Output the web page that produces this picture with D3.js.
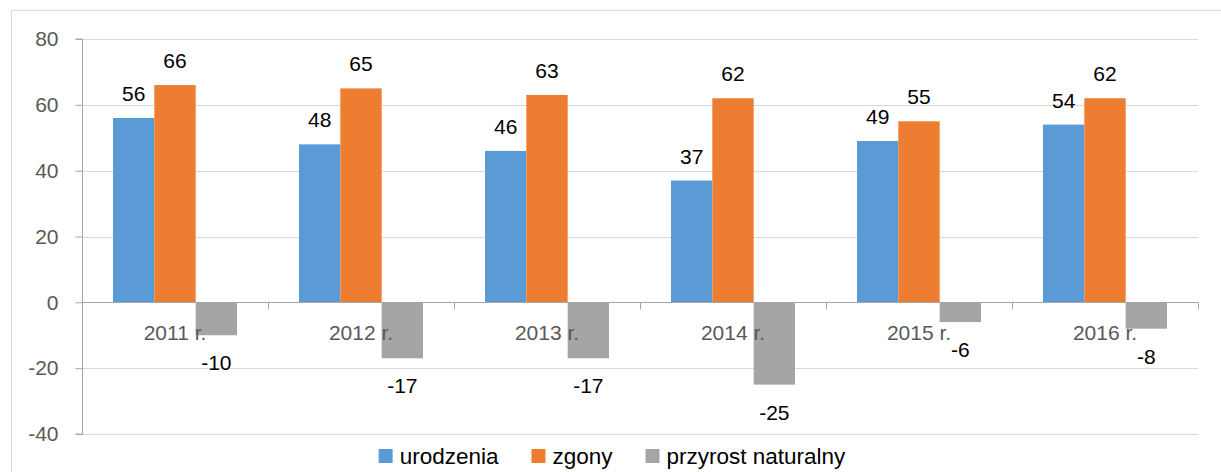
<!DOCTYPE html>
<meta charset="utf-8">
<style>
    body, html {
        margin: 0;
        padding: 0;
        height: 100%;
        overflow: hidden;
        background: #fff;
    }
    text { font-family: "Liberation Sans", Arial, sans-serif; }
</style>
<svg width="1221" height="472"></svg>
<script src="https://d3js.org/d3.v7.min.js"></script>
<script>
    var categories = ["2011 r.", "2012 r.", "2013 r.", "2014 r.", "2015 r.", "2016 r."];
    var urodzenia = [56, 48, 46, 37, 49, 54];
    var zgony = [66, 65, 63, 62, 55, 62];
    var przyrost = [-10, -17, -17, -25, -6, -8];
    var seriesNames = ["urodzenia", "zgony", "przyrost naturalny"];
    var yTicks = [-40, -20, 0, 20, 40, 60, 80];

    var colors = ["#5b9bd5", "#ed7d31", "#a5a5a5"];
    var seriesValues = [urodzenia, zgony, przyrost];

    var svg = d3.select("svg");

    // outer chart frame (right and bottom edges fall outside the picture)
    svg.append("rect")
        .attr("x", 11.5).attr("y", 10.5)
        .attr("width", 1230).attr("height", 480)
        .attr("fill", "none")
        .attr("stroke", "#d9d9d9");

    var left = 82, right = 1198;
    var y = d3.scaleLinear().domain([-40, 80]).range([434, 39]);
    var x0 = d3.scaleBand().domain(categories).range([left, right])
        .paddingInner(1 / 3).paddingOuter(1 / 6);
    var x1 = d3.scaleBand().domain(seriesNames).range([0, x0.bandwidth()]);
    var xb = d3.scaleBand().domain(categories).range([left, right]);

    // gridlines
    svg.append("g")
        .selectAll("line")
        .data(yTicks.filter(function (d) { return d !== 0; }))
        .enter().append("line")
        .attr("x1", left).attr("x2", right)
        .attr("y1", function (d) { return Math.round(y(d)) + 0.5; })
        .attr("y2", function (d) { return Math.round(y(d)) + 0.5; })
        .attr("stroke", "#d9d9d9")
        .attr("stroke-width", 1);

    // y axis
    var yAxis = svg.append("g")
        .attr("transform", "translate(" + (left + 0.5) + ",0)")
        .call(d3.axisLeft(y).tickValues(yTicks).tickSize(7).tickPadding(17)
            .tickFormat(function (d) { return String(d); }));
    yAxis.select(".domain").attr("stroke", "#a6a6a6").attr("d", "M-7," + y(80) + "H0V" + y(-40) + "H-7");
    yAxis.selectAll(".tick line").attr("stroke", "#a6a6a6");
    yAxis.selectAll(".tick text")
        .attr("fill", "#595959")
        .attr("font-size", 21)
        .attr("font-family", "Liberation Sans, Arial, sans-serif");

    // bars
    var rows = categories.map(function (c, i) {
        return seriesNames.map(function (s, j) {
            return { cat: c, series: s, value: seriesValues[j][i], color: colors[j] };
        });
    });

    var groups = svg.append("g")
        .selectAll("g")
        .data(rows)
        .enter().append("g")
        .attr("transform", function (d) { return "translate(" + x0(d[0].cat) + ",0)"; });

    groups.selectAll("rect")
        .data(function (d) { return d; })
        .enter().append("rect")
        .attr("x", function (d) { return x1(d.series); })
        .attr("width", x1.bandwidth())
        .attr("y", function (d) { return y(Math.max(0, d.value)); })
        .attr("height", function (d) { return Math.abs(y(d.value) - y(0)); })
        .attr("fill", function (d) { return d.color; });

    // x axis line with category boundary ticks
    var y0 = Math.round(y(0)) + 0.5;
    var xAxis = svg.append("g");
    xAxis.append("line")
        .attr("x1", left).attr("x2", right)
        .attr("y1", y0).attr("y2", y0)
        .attr("stroke", "#a6a6a6");
    var bounds = categories.map(function (c) { return xb(c); }).concat([right]);
    xAxis.selectAll("line.tk")
        .data(bounds)
        .enter().append("line")
        .attr("class", "tk")
        .attr("x1", function (d) { return Math.round(d) + 0.5; })
        .attr("x2", function (d) { return Math.round(d) + 0.5; })
        .attr("y1", y0).attr("y2", y0 + 7)
        .attr("stroke", "#a6a6a6");

    // category labels
    svg.append("g")
        .selectAll("text")
        .data(categories)
        .enter().append("text")
        .attr("x", function (d) { return x0(d) + x0.bandwidth() / 2; })
        .attr("y", y(0) + 38)
        .attr("text-anchor", "middle")
        .attr("font-size", 21)
        .attr("fill", "#595959")
        .text(function (d) { return d; });

    // data labels
    groups.selectAll("text")
        .data(function (d) { return d; })
        .enter().append("text")
        .attr("x", function (d) { return x1(d.series) + x1.bandwidth() / 2; })
        .attr("y", function (d) { return d.value >= 0 ? y(d.value) - 17 : y(d.value) + 35; })
        .attr("text-anchor", "middle")
        .attr("font-size", 21)
        .attr("fill", "#000")
        .text(function (d) { return String(d.value); });

    // legend
    var legend = svg.append("g");
    var items = legend.selectAll("g")
        .data(seriesNames)
        .enter().append("g");
    items.append("rect")
        .attr("width", 14).attr("height", 14)
        .attr("y", 449)
        .attr("fill", function (d, i) { return colors[i]; });
    items.append("text")
        .attr("x", 21)
        .attr("y", 464)
        .attr("font-size", 22.5)
        .attr("fill", "#000")
        .text(function (d) { return d; });
    var pos = 0, offsets = [];
    items.each(function () {
        offsets.push(pos);
        pos += 21 + d3.select(this).select("text").node().getComputedTextLength() + 33;
    });
    var total = pos - 33;
    var start = 612 - total / 2;
    items.attr("transform", function (d, i) { return "translate(" + (start + offsets[i]) + ",0)"; });
</script>
